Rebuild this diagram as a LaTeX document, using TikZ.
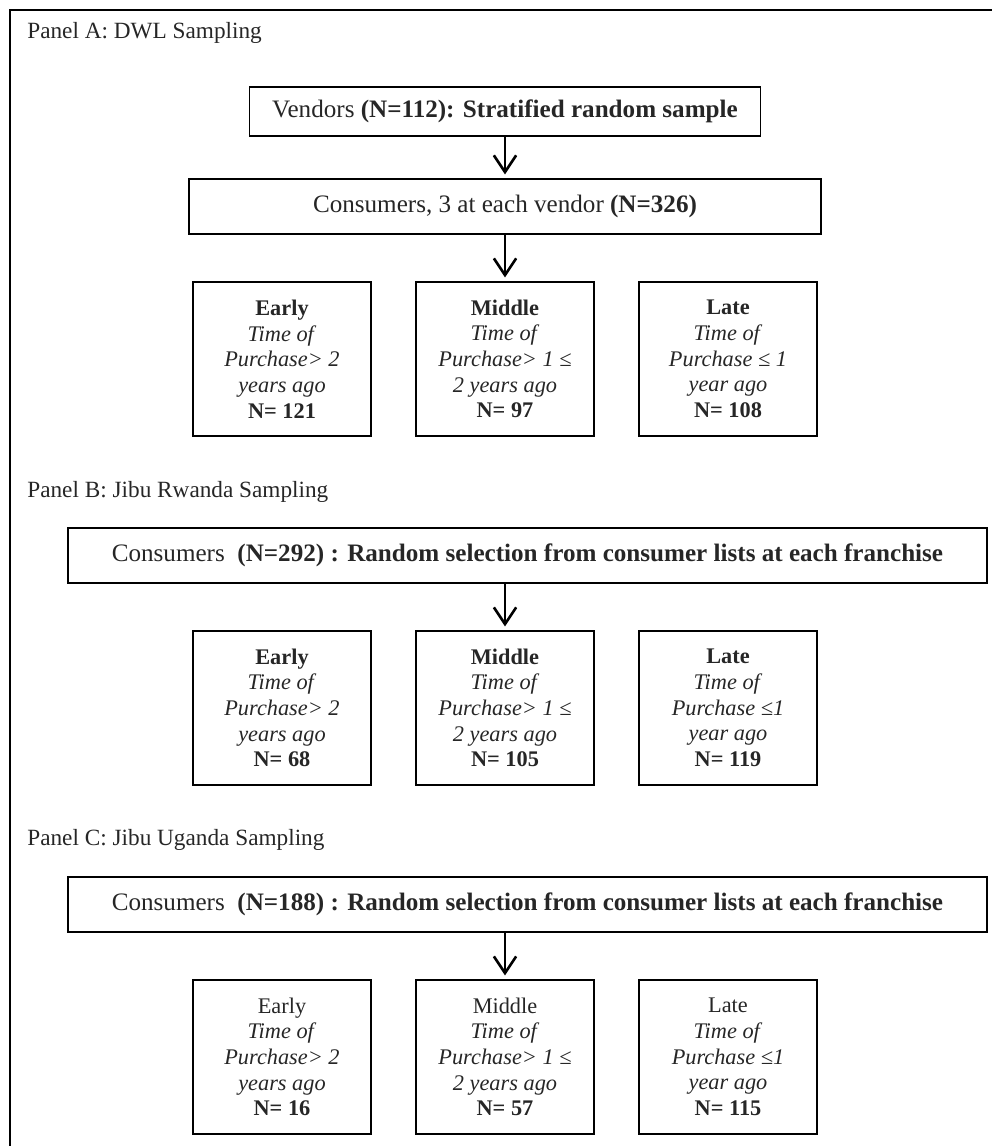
\documentclass[tikz,border=0pt]{standalone}
\usepackage{fontspec}
\setmainfont{Liberation Serif}
\usetikzlibrary{arrows.meta,
                positioning}

\begin{document}
\begin{tikzpicture}[x=0.5376pt, y=-0.5376pt,
                    panel/.style={anchor=base west, inner sep=0pt, text=black!85, font=\fontsize{12.5}{15}\selectfont},
                    widebox/.style={draw, line width=0.9pt, inner sep=0pt, text=black!85, font=\fontsize{13.5}{16}\selectfont},
                    groupbox/.style={draw, line width=0.9pt, minimum width=95.7pt, minimum height=82.8pt, inner sep=0pt, align=center, text=black!85, font=\fontsize{12}{13.8}\selectfont},
                    downarrow/.style={-{Straight Barb[length=9pt,width=12pt]}, line width=1.4pt, shorten >=2pt}
                    ]
    \useasboundingbox (0,0) rectangle (992,1146);
    % FRAME %
    \draw[line width=1.3pt] (992,10) -- (10,10) -- (10,1146);

    % PANEL A %
    \node[panel] (PanelA) at (27,38) {Panel A: DWL Sampling};
    \node[widebox, minimum width=274.7pt, minimum height=26.3pt] (VendA) at (505,111.5)
        {Vendors \textbf{(N=112): Stratified random sample}};
    \node[widebox, minimum width=339.8pt, minimum height=29.6pt] (ConsA) at (505,206.5)
        {Consumers, 3 at each vendor \textbf{(N=326)}};

    % PANEL B %
    \node[panel] (PanelB) at (27,497) {Panel B: Jibu Rwanda Sampling};
    \node[widebox, minimum width=494pt, minimum height=29.6pt] (ConsB) at (527.5,555.5)
        {Consumers~ \textbf{(N=292) : Random selection from consumer lists at each franchise}};

    % PANEL C %
    \node[panel] (PanelC) at (27,845) {Panel C: Jibu Uganda Sampling};
    \node[widebox, minimum width=494pt, minimum height=29.6pt] (ConsC) at (527.5,904.5)
        {Consumers~ \textbf{(N=188) : Random selection from consumer lists at each franchise}};

    % GROUPS %
    \foreach \p/\yy/\ne/\nm/\hd in {A/359/121/97/\bfseries,
                                    B/708/68/105/\bfseries,
                                    C/1057/16/57/\mdseries}{
    \node[groupbox] (Early\p) at (282,\yy)
        {{\hd Early}\\ \textit{Time of}\\ \textit{Purchase> 2}\\ \textit{years ago}\\ \textbf{N= \ne}};
    \node[groupbox] (Middle\p) at (505,\yy)
        {{\hd Middle}\\ \textit{Time of}\\ \textit{Purchase> 1 ≤}\\ \textit{2 years ago}\\ \textbf{N= \nm}};
    }
    \node[groupbox] (LateA) at (728,359)
        {\textbf{Late}\\ \textit{Time of}\\ \textit{Purchase ≤ 1}\\ \textit{year ago}\\ \textbf{N= 108}};
    \foreach \p/\yy/\nl/\hd in {B/708/119/\bfseries, C/1057/115/\mdseries}
    \node[groupbox] (Late\p) at (728,\yy)
        {{\hd Late}\\ \textit{Time of}\\ \textit{Purchase ≤1}\\ \textit{year ago}\\ \textbf{N= \nl}};

    % ARROWS %
    \draw[downarrow] (VendA) -- (ConsA);
    \draw[downarrow] (ConsA) -- (MiddleA);
    \foreach \p in {B,C}
    \draw[downarrow] (Cons\p.south -| Middle\p.north) -- (Middle\p.north);

\end{tikzpicture}
\end{document}
